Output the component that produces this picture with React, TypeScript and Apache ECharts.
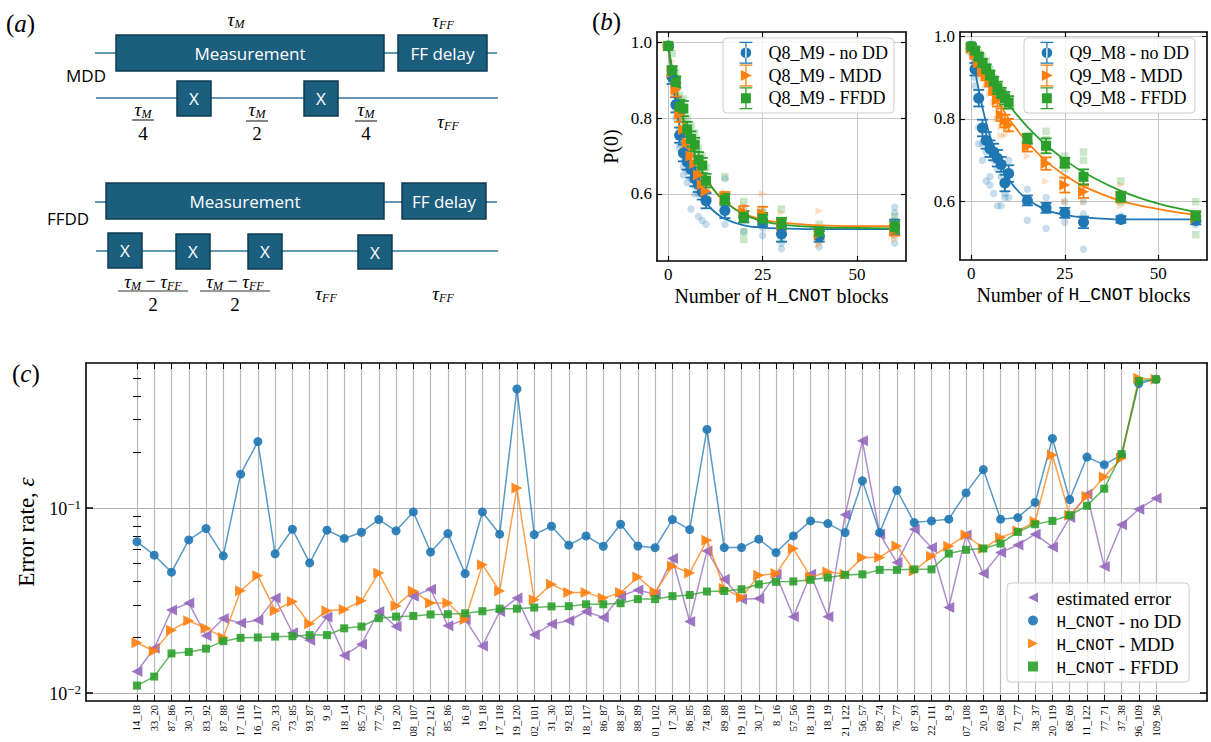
import { useEffect, useRef } from 'react';
import * as echarts from 'echarts';

// ---------- panel (c): per-pair error rates ----------
const pairLabels = [
  '14_18', '33_20', '87_86', '30_31', '83_92', '87_88', '17_116', '16_117', '20_33', '73_85',
  '93_87', '9_8', '18_14', '85_73', '77_76', '19_20', '08_107', '22_121', '85_86', '16_8',
  '19_18', '17_118', '19_120', '02_101', '31_30', '92_83', '18_117', '86_87', '88_87', '88_89',
  '01_102', '17_30', '86_85', '74_89', '89_88', '19_118', '30_17', '8_16', '57_56', '18_119',
  '18_19', '21_122', '56_57', '89_74', '76_77', '87_93', '22_111', '8_9', '07_108', '20_19',
  '69_68', '71_77', '38_37', '20_119', '68_69', '11_122', '77_71', '37_38', '96_109', '109_96',
];
const estimatedError = [
  0.0131, 0.0175, 0.0281, 0.0307, 0.0204, 0.0253, 0.0239, 0.0248, 0.0326, 0.0212,
  0.0193, 0.0258, 0.016, 0.0184, 0.0276, 0.0229, 0.0334, 0.0364, 0.0231, 0.025,
  0.018, 0.0276, 0.0326, 0.0207, 0.0236, 0.0246, 0.0276, 0.0256, 0.0335, 0.0361,
  0.0342, 0.0533, 0.0244, 0.0586, 0.0412, 0.0321, 0.0324, 0.0438, 0.0259, 0.0438,
  0.0259, 0.0917, 0.23, 0.0721, 0.0507, 0.0767, 0.0611, 0.029, 0.0713, 0.0442,
  0.0574, 0.0631, 0.0721, 0.0616, 0.0887, 0.1185, 0.0483, 0.081, 0.0984, 0.1128,
];
const noDD = [
  0.0657, 0.0556, 0.045, 0.0672, 0.0773, 0.0551, 0.152, 0.228, 0.0565, 0.0767,
  0.0505, 0.0758, 0.0684, 0.0739, 0.0865, 0.0752, 0.0951, 0.0578, 0.0727, 0.0442,
  0.0951, 0.0721, 0.438, 0.0718, 0.0796, 0.0629, 0.0706, 0.0621, 0.0816, 0.0623,
  0.061, 0.0865, 0.0764, 0.265, 0.0611, 0.0611, 0.0678, 0.0574, 0.0706, 0.0851,
  0.0823, 0.0736, 0.14, 0.0736, 0.1245, 0.0833, 0.0851, 0.0869, 0.1205, 0.161,
  0.0869, 0.0887, 0.107, 0.237, 0.111, 0.188, 0.171, 0.193, 0.469, 0.494,
];
const mdd = [
  0.0187, 0.0169, 0.0219, 0.0246, 0.0224, 0.02, 0.0357, 0.0431, 0.0279, 0.0313,
  0.0237, 0.0279, 0.0283, 0.0315, 0.0446, 0.0296, 0.0356, 0.0307, 0.0307, 0.025,
  0.0494, 0.0356, 0.128, 0.0319, 0.0387, 0.0349, 0.0349, 0.0326, 0.0349, 0.0424,
  0.0352, 0.0486, 0.0446, 0.067, 0.0367, 0.0328, 0.0433, 0.0442, 0.0604, 0.0424,
  0.0451, 0.0438, 0.054, 0.054, 0.0623, 0.0457, 0.0548, 0.0621, 0.0714, 0.0604,
  0.0692, 0.0752, 0.0844, 0.193, 0.0913, 0.1156, 0.147, 0.185, 0.501, 0.494,
];
const ffdd = [
  0.011, 0.0123, 0.0164, 0.0167, 0.0174, 0.0191, 0.0199, 0.02, 0.0202, 0.0203,
  0.0206, 0.0206, 0.0224, 0.0229, 0.0254, 0.0259, 0.0261, 0.0266, 0.0267, 0.027,
  0.0277, 0.0286, 0.0286, 0.029, 0.0294, 0.0295, 0.0302, 0.0302, 0.0306, 0.0322,
  0.0322, 0.0334, 0.0339, 0.0354, 0.0356, 0.0364, 0.0387, 0.0399, 0.0401, 0.0409,
  0.0421, 0.0435, 0.0438, 0.0463, 0.0463, 0.0466, 0.0466, 0.0567, 0.0594, 0.0604,
  0.0642, 0.0742, 0.0816, 0.0851, 0.0913, 0.1026, 0.127, 0.195, 0.484, 0.494,
];
const errorMajorTicks = [0.01, 0.1];
const errorMinorTicks = [0.02, 0.03, 0.04, 0.05, 0.06, 0.07, 0.08, 0.09, 0.2, 0.3, 0.4, 0.5];

// ---------- panel (b): P(0) decay vs number of H_CNOT blocks ----------
const blockCounts = [0, 1, 2, 3, 4, 5, 6, 7, 8, 9, 10, 15, 20, 25, 30, 40, 60];
const fitBlocks = [0, 1, 2, 3, 4, 5, 6, 8, 10, 12, 15, 20, 25, 30, 40, 50, 60];
const blockTicks = [0, 25, 50];
const probTicks = [0.6, 0.8, 1.0];

const q8NoDDMean = [0.99, 0.908, 0.835, 0.755, 0.708, 0.684, 0.665, 0.64, 0.625, 0.605, 0.582, 0.556, 0.54, 0.53, 0.494, 0.488, 0.512];
const q8NoDDErr = [0.004, 0.018, 0.02, 0.02, 0.022, 0.02, 0.022, 0.02, 0.02, 0.02, 0.02, 0.02, 0.015, 0.015, 0.02, 0.014, 0.02];
const q8MddMean = [0.99, 0.92, 0.875, 0.81, 0.77, 0.735, 0.7, 0.68, 0.65, 0.625, 0.607, 0.59, 0.553, 0.548, 0.52, 0.495, 0.505];
const q8MddErr = [0.004, 0.015, 0.018, 0.02, 0.02, 0.02, 0.02, 0.02, 0.02, 0.018, 0.018, 0.015, 0.015, 0.018, 0.015, 0.015, 0.015];
const q8FfddMean = [0.99, 0.925, 0.895, 0.83, 0.825, 0.77, 0.745, 0.73, 0.69, 0.675, 0.635, 0.585, 0.54, 0.535, 0.522, 0.5, 0.512];
const q8FfddErr = [0.004, 0.012, 0.015, 0.018, 0.02, 0.02, 0.02, 0.018, 0.02, 0.02, 0.018, 0.015, 0.015, 0.015, 0.015, 0.012, 0.015];
const q8NoDDFit = [0.99, 0.905, 0.836, 0.778, 0.731, 0.692, 0.659, 0.611, 0.577, 0.555, 0.534, 0.517, 0.511, 0.509, 0.507, 0.507, 0.507];
const q8MddFit = [0.99, 0.931, 0.879, 0.833, 0.794, 0.759, 0.728, 0.678, 0.64, 0.611, 0.579, 0.548, 0.532, 0.524, 0.517, 0.515, 0.515];
const q8FfddFit = [0.99, 0.932, 0.881, 0.837, 0.797, 0.762, 0.732, 0.682, 0.642, 0.612, 0.579, 0.546, 0.528, 0.519, 0.512, 0.51, 0.509];
const q8NoDDRuns = [
  [0, 0.99], [0, 0.985], [1, 0.9], [1, 0.93], [2, 0.82], [2, 0.8], [3, 0.77], [3, 0.73], [3, 0.72], [4, 0.7], [4, 0.67],
  [4, 0.65], [5, 0.66], [5, 0.63], [6, 0.64], [6, 0.56], [7, 0.62], [7, 0.6], [8, 0.6], [8, 0.54], [9, 0.6], [9, 0.53],
  [10, 0.6], [10, 0.52], [15, 0.64], [15, 0.55], [15, 0.52], [20, 0.56], [20, 0.54], [20, 0.5], [25, 0.56], [25, 0.51],
  [25, 0.49], [30, 0.52], [30, 0.47], [30, 0.455], [40, 0.5], [40, 0.48], [40, 0.46], [60, 0.565], [60, 0.55], [60, 0.53],
  [60, 0.49], [60, 0.47],
];
const q8MddRuns = [
  [0, 0.99], [1, 0.95], [2, 0.9], [2, 0.86], [3, 0.84], [3, 0.8], [4, 0.8], [4, 0.75], [5, 0.76], [5, 0.72], [6, 0.72],
  [6, 0.68], [7, 0.7], [8, 0.67], [8, 0.63], [9, 0.64], [10, 0.62], [10, 0.59], [15, 0.605], [15, 0.575], [20, 0.57],
  [20, 0.54], [25, 0.6], [25, 0.53], [30, 0.55], [30, 0.5], [40, 0.555], [40, 0.47], [40, 0.465], [60, 0.53], [60, 0.5],
  [60, 0.49], [60, 0.48],
];
const q8FfddRuns = [
  [0, 0.995], [1, 0.97], [1, 0.9], [2, 0.92], [2, 0.87], [3, 0.86], [3, 0.8], [4, 0.85], [4, 0.79], [5, 0.8], [5, 0.75],
  [6, 0.78], [6, 0.72], [7, 0.76], [8, 0.72], [8, 0.67], [9, 0.7], [10, 0.67], [10, 0.62], [15, 0.645], [15, 0.56],
  [20, 0.58], [20, 0.5], [20, 0.48], [25, 0.55], [25, 0.52], [30, 0.56], [30, 0.48], [40, 0.52], [40, 0.48], [60, 0.54],
  [60, 0.52], [60, 0.5],
];

const q9NoDDMean = [0.975, 0.92, 0.85, 0.778, 0.748, 0.728, 0.72, 0.705, 0.69, 0.645, 0.668, 0.603, 0.585, 0.573, 0.55, 0.557, 0.555];
const q9NoDDErr = [0.006, 0.015, 0.02, 0.02, 0.02, 0.02, 0.02, 0.02, 0.018, 0.02, 0.02, 0.012, 0.012, 0.012, 0.014, 0.008, 0.01];
const q9MddMean = [0.97, 0.955, 0.935, 0.915, 0.905, 0.89, 0.87, 0.845, 0.81, 0.795, 0.785, 0.733, 0.692, 0.64, 0.624, 0.61, 0.562];
const q9MddErr = [0.006, 0.008, 0.01, 0.01, 0.012, 0.012, 0.012, 0.015, 0.015, 0.015, 0.015, 0.012, 0.015, 0.018, 0.015, 0.012, 0.012];
const q9FfddMean = [0.975, 0.965, 0.95, 0.935, 0.92, 0.905, 0.89, 0.875, 0.86, 0.85, 0.84, 0.752, 0.735, 0.694, 0.66, 0.612, 0.565];
const q9FfddErr = [0.006, 0.008, 0.01, 0.01, 0.012, 0.012, 0.012, 0.015, 0.015, 0.015, 0.015, 0.012, 0.018, 0.012, 0.018, 0.012, 0.012];
const q9NoDDFit = [0.975, 0.918, 0.87, 0.827, 0.791, 0.759, 0.732, 0.688, 0.655, 0.631, 0.605, 0.58, 0.568, 0.562, 0.557, 0.557, 0.557];
const q9MddFit = [0.975, 0.953, 0.932, 0.913, 0.894, 0.877, 0.86, 0.829, 0.801, 0.777, 0.743, 0.698, 0.664, 0.637, 0.602, 0.582, 0.568];
const q9FfddFit = [0.978, 0.961, 0.945, 0.929, 0.914, 0.9, 0.886, 0.859, 0.835, 0.812, 0.781, 0.737, 0.701, 0.671, 0.626, 0.595, 0.575];
const q9NoDDRuns = [
  [0, 0.97], [0, 0.96], [1, 0.9], [1, 0.88], [2, 0.78], [2, 0.74], [3, 0.74], [3, 0.7], [4, 0.72], [4, 0.65], [5, 0.66],
  [5, 0.64], [6, 0.7], [6, 0.62], [7, 0.68], [7, 0.59], [8, 0.66], [8, 0.59], [9, 0.62], [9, 0.61], [10, 0.7], [10, 0.61],
  [15, 0.63], [15, 0.6], [15, 0.555], [20, 0.61], [20, 0.59], [20, 0.535], [25, 0.6], [25, 0.55], [30, 0.6], [30, 0.57],
  [30, 0.485], [40, 0.565], [40, 0.555], [60, 0.56], [60, 0.55], [60, 0.545],
];
const q9MddRuns = [
  [0, 0.96], [1, 0.94], [2, 0.92], [3, 0.9], [4, 0.88], [5, 0.86], [6, 0.84], [7, 0.8], [8, 0.78], [8, 0.76], [9, 0.76],
  [10, 0.77], [15, 0.71], [15, 0.74], [20, 0.65], [20, 0.72], [25, 0.6], [25, 0.66], [30, 0.6], [30, 0.64], [40, 0.64],
  [40, 0.59], [60, 0.57], [60, 0.555],
];
const q9FfddRuns = [
  [0, 0.98], [1, 0.97], [2, 0.96], [3, 0.95], [4, 0.94], [5, 0.92], [6, 0.9], [7, 0.88], [8, 0.87], [9, 0.86], [10, 0.83],
  [15, 0.76], [15, 0.74], [20, 0.77], [20, 0.75], [25, 0.71], [25, 0.68], [30, 0.72], [30, 0.7], [40, 0.65], [40, 0.6],
  [60, 0.6], [60, 0.52],
];

// ---------- styling ----------
const SERIF = "'Liberation Serif', 'DejaVu Serif', serif";
const MONO = "'Liberation Mono', 'DejaVu Sans Mono', monospace";
const SANS = "'Open Sans', 'Noto Sans', sans-serif";
const BLUE = '#1f77b4';
const ORANGE = '#ff7f0e';
const GREEN = '#2ca02c';
const PURPLE = '#9467bd';
const BOX_FILL = '#1c5e7e';
const BOX_EDGE = '#0f3b52';
const WIRE = '#2f7698';

const TRI_RIGHT = 'path://M0 0L10 5L0 10Z';
const TRI_LEFT = 'path://M10 0L0 5L10 10Z';
const SQUARE = 'path://M0 0h10v10h-10Z';
const ERR_CAPS = 'M9.3 0h1.4v24h-1.4z M3 0h14v1.4h-14z M3 22.6h14v1.4h-14z ';
const ICON_ERR_CIRCLE = 'path://' + ERR_CAPS + 'M4.2 12a5.8 5.8 0 1 0 11.6 0a5.8 5.8 0 1 0 -11.6 0z';
const ICON_ERR_TRI = 'path://' + ERR_CAPS + 'M4.5 6L16.5 12L4.5 18z';
const ICON_ERR_SQUARE = 'path://' + ERR_CAPS + 'M4.6 6.6h10.8v10.8h-10.8z';

const spine = { show: true, onZero: false, lineStyle: { color: '#000', width: 1.6 } };
const tickStyle = { color: '#000', width: 1.2 };

const pairs = (xs: number[], ys: number[]) => xs.map((x, i) => [x, ys[i]]);
const triples = (xs: number[], ys: number[], es: number[]) => xs.map((x, i) => [x, ys[i], es[i]]);

const errorBarItem = (color: string) => (_params: any, api: any) => {
  const x = api.value(0);
  const y = api.value(1);
  const e = api.value(2);
  const top = api.coord([x, y + e]);
  const bot = api.coord([x, y - e]);
  const w = 5.5;
  const style = { stroke: color, lineWidth: 1.8 };
  return {
    type: 'group',
    children: [
      { type: 'line', shape: { x1: top[0], y1: top[1], x2: bot[0], y2: bot[1] }, style },
      { type: 'line', shape: { x1: top[0] - w, y1: top[1], x2: top[0] + w, y2: top[1] }, style },
      { type: 'line', shape: { x1: bot[0] - w, y1: bot[1], x2: bot[0] + w, y2: bot[1] }, style },
    ],
  };
};

function decaySeries(
  axis: number, name: string, color: string, symbol: string,
  runs: number[][], mean: number[], err: number[], fit: number[],
) {
  return [
    {
      type: 'scatter', name: name + ' runs', xAxisIndex: axis, yAxisIndex: axis, data: runs,
      symbol, symbolSize: 7.5, itemStyle: { color, opacity: 0.25 }, silent: true, z: 1,
    },
    {
      type: 'line', name: name + ' fit', xAxisIndex: axis, yAxisIndex: axis, data: pairs(fitBlocks, fit),
      smooth: 0.35, symbol: 'none', lineStyle: { color, width: 1.8 }, silent: true, z: 2,
    },
    {
      type: 'custom', name: name + ' err', xAxisIndex: axis, yAxisIndex: axis,
      data: triples(blockCounts, mean, err), encode: { x: 0, y: 1 },
      renderItem: errorBarItem(color), silent: true, z: 3,
    },
    {
      type: 'scatter', name, xAxisIndex: axis, yAxisIndex: axis, data: pairs(blockCounts, mean),
      symbol, symbolSize: symbol === SQUARE ? 10 : 11, itemStyle: { color, opacity: 1 }, z: 4,
    },
  ];
}

function decayAxes(grid: number, yMin: number, yMax: number, withYName: boolean) {
  const xName = '{s|Number of }{m|H_CNOT}{s| blocks}';
  const xs = [
    {
      type: 'value', gridIndex: grid, position: 'bottom', min: -3, max: 63, axisLine: spine,
      axisTick: { show: true, inside: true, length: 5, customValues: blockTicks, lineStyle: tickStyle },
      axisLabel: { customValues: blockTicks, color: '#000', fontFamily: SERIF, fontSize: 17, margin: 5 },
      splitLine: { show: true, lineStyle: { color: '#c6c6c6', width: 1 } },
      name: xName, nameLocation: 'middle', nameGap: 25,
      nameTextStyle: {
        color: '#000',
        rich: {
          s: { fontFamily: SERIF, fontSize: 20, color: '#000' },
          m: { fontFamily: MONO, fontSize: 18, color: '#000' },
        },
      },
    },
    {
      type: 'value', gridIndex: grid, position: 'top', min: -3, max: 63, axisLine: spine,
      axisTick: { show: true, inside: true, length: 5, customValues: blockTicks, lineStyle: tickStyle },
      axisLabel: { show: false }, splitLine: { show: false },
    },
  ];
  const ys = [
    {
      type: 'value', gridIndex: grid, position: 'left', min: yMin, max: yMax, axisLine: spine,
      axisTick: { show: true, inside: true, length: 5, customValues: probTicks, lineStyle: tickStyle },
      axisLabel: {
        customValues: probTicks, color: '#000', fontFamily: SERIF, fontSize: 17, margin: 5,
        formatter: (v: number) => v.toFixed(1),
      },
      splitLine: { show: true, lineStyle: { color: '#c6c6c6', width: 1 } },
      name: withYName ? 'P(0)' : '', nameLocation: 'middle', nameGap: 36,
      nameTextStyle: { color: '#000', fontFamily: SERIF, fontSize: 20 },
    },
    {
      type: 'value', gridIndex: grid, position: 'right', min: yMin, max: yMax, axisLine: spine,
      axisTick: { show: true, inside: true, length: 5, customValues: probTicks, lineStyle: tickStyle },
      axisLabel: { show: false }, splitLine: { show: false },
    },
  ];
  return { xs, ys };
}

function decayLegend(left: number, names: string[]) {
  return {
    left, top: 38, orient: 'vertical', selectedMode: false,
    itemWidth: 27, itemHeight: 22, itemGap: 0.8, padding: [3.7, 6, 3.7, 16.5],
    backgroundColor: 'rgba(255,255,255,0.8)', borderColor: '#cccccc', borderWidth: 1, borderRadius: 4,
    textStyle: { color: '#000', fontFamily: SERIF, fontSize: 18, padding: [0, 0, 0, 4] },
    data: [
      { name: names[0], icon: ICON_ERR_CIRCLE },
      { name: names[1], icon: ICON_ERR_TRI },
      { name: names[2], icon: ICON_ERR_SQUARE },
    ],
  };
}

const tauRich = {
  t: { fontFamily: SERIF, fontStyle: 'italic', fontSize: 19, lineHeight: 20, verticalAlign: 'top', fill: '#000' },
  s: { fontFamily: SERIF, fontStyle: 'italic', fontSize: 12, lineHeight: 12, padding: [9, 0, 0, 0], verticalAlign: 'bottom', fill: '#000' },
  o: { fontFamily: SERIF, fontSize: 18, lineHeight: 20, verticalAlign: 'top', fill: '#000' },
  d: { fontFamily: SERIF, fontSize: 19, lineHeight: 20, fill: '#000' },
};

function mathText(x: number, y: number, text: string) {
  return {
    type: 'text', x, y,
    style: { text, rich: tauRich, align: 'center', verticalAlign: 'middle', fill: '#000' },
  };
}

function fraction(cx: number, yNum: number, yBar: number, yDen: number, half: number, num: string, den: string) {
  return [
    mathText(cx, yNum, num),
    { type: 'line', shape: { x1: cx - half, y1: yBar, x2: cx + half, y2: yBar }, style: { stroke: '#333', lineWidth: 1.2 } },
    mathText(cx, yDen, '{d|' + den + '}'),
  ];
}

function wire(x1: number, x2: number, y: number) {
  return { type: 'line', shape: { x1, y1: y, x2, y2: y }, style: { stroke: WIRE, lineWidth: 1.6 }, z: 1 };
}

function block(x: number, y: number, w: number, h: number, label: string) {
  return [
    { type: 'rect', shape: { x, y, width: w, height: h }, style: { fill: BOX_FILL, stroke: BOX_EDGE, lineWidth: 1.5 }, z: 2 },
    {
      type: 'text', x: x + w / 2, y: y + h / 2, z: 3,
      style: { text: label, fill: '#fff', fontFamily: SANS, fontSize: 17, align: 'center', verticalAlign: 'middle' },
    },
  ];
}

function sansLabel(x: number, y: number, text: string) {
  return {
    type: 'text', x, y,
    style: { text, fill: '#000', fontFamily: SANS, fontSize: 17, align: 'center', verticalAlign: 'middle' },
  };
}

function panelTag(x: number, y: number, letter: string) {
  return {
    type: 'text', x, y,
    style: {
      text: '{p|(}{i|' + letter + '}{p|)}',
      rich: {
        p: { fontFamily: SERIF, fontSize: 25, fill: '#000' },
        i: { fontFamily: SERIF, fontStyle: 'italic', fontSize: 25, fill: '#000' },
      },
    },
  };
}

const TAU_M = '{t|τ}{s|M}';
const TAU_FF = '{t|τ}{s|FF}';
const TAU_DIFF = '{t|τ}{s|M}{o| − }{t|τ}{s|FF}';

const schematic = [
  panelTag(6, 11, 'a'),
  panelTag(592, 9, 'b'),
  panelTag(12, 361, 'c'),
  // MDD sequence
  mathText(236, 20, TAU_M),
  mathText(443, 21, TAU_FF),
  wire(95, 497, 53),
  ...block(116, 35, 268, 36, 'Measurement'),
  ...block(398, 35, 89, 36, 'FF delay'),
  sansLabel(86, 75, 'MDD'),
  wire(96, 498, 98),
  ...block(177, 81, 34, 35, 'X'),
  ...block(304, 81, 34, 35, 'X'),
  ...fraction(143, 110, 120, 133, 11, TAU_M, '4'),
  ...fraction(257, 110, 121, 133, 11, TAU_M, '2'),
  ...fraction(366, 110, 121, 133, 11, TAU_M, '4'),
  mathText(448, 122, TAU_FF),
  // FFDD sequence
  wire(95, 497, 202),
  ...block(106, 183, 278, 36, 'Measurement'),
  ...block(402, 183, 84, 36, 'FF delay'),
  sansLabel(68, 218, 'FFDD'),
  wire(96, 498, 251),
  ...block(108, 233, 34, 35, 'X'),
  ...block(176, 234, 34, 35, 'X'),
  ...block(248, 234, 34, 35, 'X'),
  ...block(358, 235, 34, 34, 'X'),
  ...fraction(153, 282, 291, 304, 35, TAU_DIFF, '2'),
  ...fraction(235, 282, 291, 304, 35, TAU_DIFF, '2'),
  mathText(326, 294, TAU_FF),
  mathText(443, 294, TAU_FF),
];

export default function App() {
  const ref = useRef<HTMLDivElement>(null);

  useEffect(() => {
    document.body.style.margin = '0';
    if (!ref.current) return;
    const chart = echarts.init(ref.current, null, { renderer: 'svg' });

    const left = decayAxes(0, 0.423, 1.027, true);
    const right = decayAxes(1, 0.459, 1.01, false);
    const catIdx = pairLabels.map((_, i) => i);
    const logRange = { type: 'log', logBase: 10, gridIndex: 2, min: 0.00908, max: 0.605 };

    const errLine = (name: string, vals: number[], color: string, symbol: string, size: number, z: number) => ({
      type: 'line', name, xAxisIndex: 4, yAxisIndex: 4, data: vals.map((v, i) => [i, v]),
      symbol, symbolSize: size, z,
      lineStyle: { color, width: 1.5, opacity: 0.75 },
      itemStyle: { color, opacity: 0.9 },
    });

    const option: any = {
      animation: false,
      backgroundColor: '#fff',
      grid: [
        { left: 657, top: 32, width: 249, height: 229 },
        { left: 960, top: 32, width: 247, height: 228 },
        { left: 86, top: 363, width: 1121, height: 338 },
      ],
      xAxis: [
        ...left.xs,
        ...right.xs,
        {
          type: 'value', gridIndex: 2, position: 'bottom', min: -2.95, max: 61.95, axisLine: spine,
          axisTick: { show: true, inside: true, length: 6, customValues: catIdx, lineStyle: { color: '#000', width: 1 } },
          axisLabel: {
            customValues: catIdx, rotate: 90, margin: 4, color: '#000', fontFamily: SERIF, fontSize: 10.5,
            formatter: (v: number) => pairLabels[Math.round(v)] ?? '',
          },
          splitLine: { show: true, lineStyle: { color: '#b9b9b9', width: 1.2 } },
        },
        {
          type: 'value', gridIndex: 2, position: 'top', min: -2.95, max: 61.95, axisLine: spine,
          axisTick: { show: true, inside: true, length: 6, customValues: catIdx, lineStyle: { color: '#000', width: 1 } },
          axisLabel: { show: false }, splitLine: { show: false },
        },
      ],
      yAxis: [
        ...left.ys,
        ...right.ys,
        {
          ...logRange, position: 'left', axisLine: spine,
          axisTick: { show: true, inside: true, length: 7, customValues: errorMajorTicks, lineStyle: { color: '#000', width: 1.5 } },
          axisLabel: {
            customValues: errorMajorTicks, margin: 5, color: '#000',
            formatter: (v: number) => (v > 0.05 ? '{b|10}{p|−1}' : '{b|10}{p|−2}'),
            rich: {
              b: { fontFamily: SERIF, fontSize: 18, lineHeight: 20, verticalAlign: 'bottom', color: '#000' },
              p: { fontFamily: SERIF, fontSize: 13, lineHeight: 13, padding: [0, 0, 9, 0], verticalAlign: 'top', color: '#000' },
            },
          },
          splitLine: { show: true, lineStyle: { color: '#b0b0b0', width: 1.2 } },
          name: '{s|Error rate, }{i|ε}', nameLocation: 'middle', nameGap: 46,
          nameTextStyle: {
            rich: {
              s: { fontFamily: SERIF, fontSize: 23, color: '#000' },
              i: { fontFamily: SERIF, fontStyle: 'italic', fontSize: 23, color: '#000' },
            },
          },
        },
        {
          ...logRange, position: 'right', axisLine: spine,
          axisTick: { show: true, inside: true, length: 7, customValues: errorMajorTicks, lineStyle: { color: '#000', width: 1.5 } },
          axisLabel: { show: false }, splitLine: { show: false },
        },
        {
          ...logRange, position: 'left', axisLine: { show: false },
          axisTick: { show: true, inside: true, length: 4, customValues: errorMinorTicks, lineStyle: { color: '#000', width: 1 } },
          axisLabel: { show: false }, splitLine: { show: false },
        },
        {
          ...logRange, position: 'right', axisLine: { show: false },
          axisTick: { show: true, inside: true, length: 4, customValues: errorMinorTicks, lineStyle: { color: '#000', width: 1 } },
          axisLabel: { show: false }, splitLine: { show: false },
        },
      ],
      legend: [
        decayLegend(723, ['Q8_M9 - no DD', 'Q8_M9 - MDD', 'Q8_M9 - FFDD']),
        decayLegend(1024, ['Q9_M8 - no DD', 'Q9_M8 - MDD', 'Q9_M8 - FFDD']),
        {
          left: 1007, top: 583, orient: 'vertical', selectedMode: false,
          itemWidth: 29, itemHeight: 10, itemGap: 2, padding: [4, 8, 5, 21],
          backgroundColor: 'rgba(255,255,255,0.8)', borderColor: '#cccccc', borderWidth: 1, borderRadius: 4,
          formatter: (name: string) =>
            name.startsWith('H_CNOT') ? '{m|H_CNOT}{s|' + name.slice(6) + '}' : '{s|' + name + '}',
          textStyle: {
            fontFamily: SERIF, fontSize: 19, color: '#000',
            padding: [0, 0, 0, 4],
            rich: {
              s: { fontFamily: SERIF, fontSize: 19, lineHeight: 21, padding: [2, 0, 0, 0], color: '#000' },
              m: { fontFamily: MONO, fontSize: 16, lineHeight: 21, padding: [4, 0, 0, 0], color: '#000' },
            },
          },
          data: [
            { name: 'estimated error', icon: TRI_LEFT },
            { name: 'H_CNOT - no DD', icon: 'circle' },
            { name: 'H_CNOT - MDD', icon: TRI_RIGHT },
            { name: 'H_CNOT - FFDD', icon: SQUARE },
          ],
        },
      ],
      series: [
        ...decaySeries(0, 'Q8_M9 - no DD', BLUE, 'circle', q8NoDDRuns, q8NoDDMean, q8NoDDErr, q8NoDDFit),
        ...decaySeries(0, 'Q8_M9 - MDD', ORANGE, TRI_RIGHT, q8MddRuns, q8MddMean, q8MddErr, q8MddFit),
        ...decaySeries(0, 'Q8_M9 - FFDD', GREEN, SQUARE, q8FfddRuns, q8FfddMean, q8FfddErr, q8FfddFit),
        ...decaySeries(2, 'Q9_M8 - no DD', BLUE, 'circle', q9NoDDRuns, q9NoDDMean, q9NoDDErr, q9NoDDFit),
        ...decaySeries(2, 'Q9_M8 - MDD', ORANGE, TRI_RIGHT, q9MddRuns, q9MddMean, q9MddErr, q9MddFit),
        ...decaySeries(2, 'Q9_M8 - FFDD', GREEN, SQUARE, q9FfddRuns, q9FfddMean, q9FfddErr, q9FfddFit),
        errLine('estimated error', estimatedError, PURPLE, TRI_LEFT, 11, 5),
        errLine('H_CNOT - no DD', noDD, BLUE, 'circle', 9, 6),
        errLine('H_CNOT - MDD', mdd, ORANGE, TRI_RIGHT, 11, 7),
        errLine('H_CNOT - FFDD', ffdd, GREEN, SQUARE, 8, 8),
      ],
      graphic: schematic,
    };

    chart.setOption(option);
    return () => chart.dispose();
  }, []);

  return <div ref={ref} style={{ width: 1211, height: 742 }} />;
}
